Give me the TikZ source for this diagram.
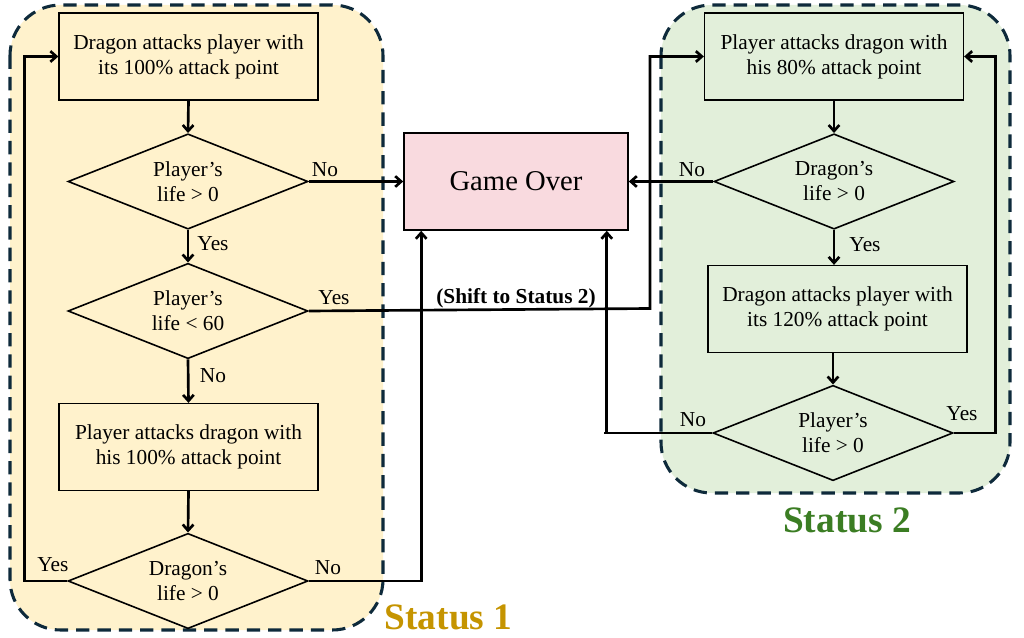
\documentclass[tikz,border=0pt]{standalone}
\usepackage{fontspec}
\setmainfont{Liberation Serif}
\usetikzlibrary{shapes.geometric,arrows.meta}
\definecolor{yelfill}{HTML}{FFF2CC}
\definecolor{grnfill}{HTML}{E2EFDA}
\definecolor{pinkfill}{HTML}{F9DADF}
\definecolor{dashcol}{HTML}{0E2A3B}
\definecolor{goldtxt}{HTML}{C59400}
\definecolor{grntxt}{HTML}{3B7D23}
\begin{document}
\begin{tikzpicture}[x=0.75pt,y=-0.75pt,
  font=\fontsize{16}{18.75}\selectfont,
  panel/.style={draw=dashcol,line width=2.3pt,dash pattern=on 10pt off 6pt,rounded corners=38pt},
  stepbox/.style={draw,line width=1.2pt,align=center,minimum width=194pt,minimum height=65pt,inner sep=0pt},
  decide/.style={draw,line width=1.2pt,shape=diamond,aspect=2.5,align=center,minimum width=180pt,minimum height=71.5pt,inner sep=0pt},
  conn/.style={line width=2pt,-{Straight Barb[length=4.5pt,width=8pt]}},
  lbl/.style={inner sep=0pt},
  statuslbl/.style={inner sep=0pt,anchor=base,font=\fontsize{28}{30}\selectfont\bfseries}]
\useasboundingbox (0,0) rectangle (1024,638);
% panels
\draw[panel,fill=yelfill] (10,5) rectangle (383,630);
\draw[panel,fill=grnfill] (661,5) rectangle (1010,493);
% left column
\node[stepbox] (b1) at (188.5,56.5) {Dragon attacks player with\\its 100\% attack point};
\node[decide] (d1) at (188,181.5) {Player's\\life > 0};
\node[decide] (d2) at (188,311) {Player's\\life < 60};
\node[stepbox] (b2) at (188.5,447) {Player attacks dragon with\\his 100\% attack point};
\node[decide] (d3) at (188,581) {Dragon's\\life > 0};
% game over
\node[draw,line width=1.2pt,fill=pinkfill,minimum width=168pt,minimum height=72.75pt,inner sep=0pt,font=\fontsize{21.5}{24}\selectfont] (go) at (516,181.5) {Game Over};
% right column
\node[stepbox] (rb1) at (834,56.5) {Player attacks dragon with\\his 80\% attack point};
\node[decide] (rd1) at (834,181.5) {Dragon's\\life > 0};
\node[stepbox] (rb2) at (837.5,309) {Dragon attacks player with\\its 120\% attack point};
\node[decide] (rd2) at (833,433) {Player's\\life > 0};
% left connectors
\draw[conn] (b1.south) -- (d1.north);
\draw[conn] (d1.south) -- (d2.north);
\draw[conn] (d2.south) -- (b2.north);
\draw[conn] (b2.south) -- (d3.north);
\draw[conn] (d3.west) -- ++(-43,0) |- (b1.west);
\draw[conn] (d3.east) -| ([xshift=13.5pt]go.south west);
\draw[conn] (d1.east) -- (go.west);
\draw[conn] (d2.east) -- (650,308.5) |- (rb1.west);
% right connectors
\draw[conn] (rb1.south) -- (rd1.north);
\draw[conn] (rd1.south) -- (rd1.south |- rb2.north);
\draw[conn] (rd2.north |- rb2.south) -- (rd2.north);
\draw[conn] (rd1.west) -- (go.east);
\draw[conn] (rd2.west) -- ++(-108,0) -| ([xshift=-16.5pt]go.south east);
\draw[conn] (rd2.east) -- ++(42,0) |- (rb1.east);
% labels
\node[lbl] (l1) at (325,170) {No};
\node[lbl] (l2) at (213,244) {Yes};
\node[lbl] (l3) at (334,298) {Yes};
\node[lbl] (l4) at (213,376) {No};
\node[lbl] (l5) at (53,565) {Yes};
\node[lbl] (l6) at (328,568) {No};
\node[lbl] (l7) at (692,170) {No};
\node[lbl] (l8) at (865,245) {Yes};
\node[lbl] (l9) at (693,420) {No};
\node[lbl] (l10) at (962,414) {Yes};
\node[lbl,font=\fontsize{16}{18.75}\selectfont\bfseries] (shift) at (516,298) {(Shift to Status 2)};
\node[statuslbl,text=goldtxt] (s1) at (448.5,629) {Status 1};
\node[statuslbl,text=grntxt] (s2) at (847,532) {Status 2};
\end{tikzpicture}
\end{document}
